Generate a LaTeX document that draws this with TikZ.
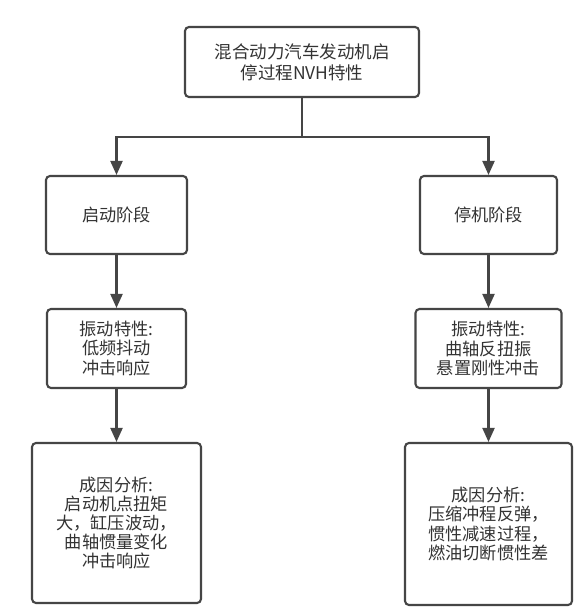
\documentclass[tikz,border=0pt]{standalone}
\usepackage{fontspec}
\setmainfont{Noto Sans CJK SC}
\usetikzlibrary{arrows.meta}
\definecolor{linec}{HTML}{454545}
\definecolor{textc}{HTML}{333333}
\tikzset{
  box/.style={draw=linec, line width=2.1pt, rounded corners=4pt, fill=white,
    align=center, text=textc, inner sep=2pt,
    font=\fontsize{17.2}{19.2}\selectfont},
  conn/.style={draw=linec, line width=2.1pt},
  arr/.style={conn, -{Triangle[length=14pt,width=12pt]}}
}
\begin{document}
\begin{tikzpicture}[x=1pt,y=-1pt]
\useasboundingbox[fill=white] (0,0) rectangle (573,609);
\node[box, minimum width=234pt, minimum height=70pt, font=\fontsize{17.5}{21}\selectfont] (top) at (302,62) {混合动力汽车发动机启\\停过程NVH特性};
\node[box, minimum width=141pt, minimum height=78pt] (L2) at (116.5,215) {启动阶段};
\node[box, minimum width=137pt, minimum height=78pt] (R2) at (488.5,215) {停机阶段};
\node[box, minimum width=139pt, minimum height=79pt] (L3) at (116.5,348.5) {振动特性:\\低频抖动\\冲击响应};
\node[box, minimum width=146pt, minimum height=79pt] (R3) at (488.5,348.5) {振动特性:\\曲轴反扭振\\悬置刚性冲击};
\node[box, minimum width=169pt, minimum height=160pt] (L4) at (116.5,523) {成因分析:\\启动机点扭矩\\大，缸压波动，\\曲轴惯量变化\\冲击响应};
\node[box, minimum width=167pt, minimum height=162pt] (R4) at (488.5,524) {成因分析:\\压缩冲程反弹，\\惯性减速过程，\\燃油切断惯性差};
\coordinate (j) at (302,137);
\draw[conn] (top.south) -- (j);
\draw[arr] (j) -| (L2.north);
\draw[arr] (j) -| (R2.north);
\draw[arr] (L2.south) -- (L3.north);
\draw[arr] (R2.south) -- (R3.north);
\draw[arr] (L3.south) -- (L4.north);
\draw[arr] (R3.south) -- (R4.north);
\end{tikzpicture}
\end{document}
